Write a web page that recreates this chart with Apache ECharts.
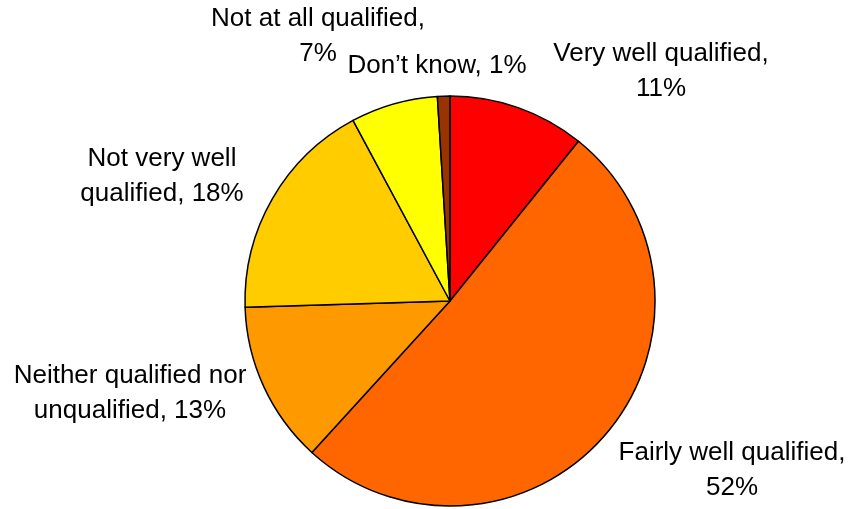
<!DOCTYPE html>
<html>
<head>
<meta charset="utf-8">
<style>
  html, body { margin: 0; padding: 0; background: #ffffff; }
  #chart { width: 852px; height: 509px; }
</style>
<script src="https://cdn.jsdelivr.net/npm/echarts@6/dist/echarts.min.js"></script>
</head>
<body>
<div id="chart"></div>
<script>
// Survey responses: how well qualified respondents feel (percent)
const categories = [
  'Very well qualified',
  'Fairly well qualified',
  'Neither qualified nor\nunqualified',
  'Not very well\nqualified',
  'Not at all qualified,\n',
  'Don\u2019t know'
];
const labelTexts = [
  'Very well qualified,\n11%',
  'Fairly well qualified,\n52%',
  'Neither qualified nor\nunqualified, 13%',
  'Not very well\nqualified, 18%',
  'Not at all qualified,\n7%',
  'Don\u2019t know, 1%'
];
const values = [11, 52, 13, 18, 7, 1];
const colors = ['#FF0000', '#FF6600', '#FF9900', '#FFCC00', '#FFFF00', '#993300'];

// label anchor points (centre of each text block)
const labelSpots = [
  [661, 71],
  [732, 470],
  [130, 393],
  [162, 176],
  [318, 36],
  [437, 66]
];

const chart = echarts.init(document.getElementById('chart'), null, { renderer: 'canvas' });

chart.setOption({
  backgroundColor: '#ffffff',
  animation: false,
  series: [{
    type: 'pie',
    center: [450, 301],
    radius: [0, 205],
    startAngle: 90,
    clockwise: true,
    avoidLabelOverlap: false,
    data: values.map((v, i) => ({
      value: v,
      name: categories[i],
      itemStyle: { color: colors[i] },
      label: { formatter: labelTexts[i] }
    })),
    itemStyle: { borderColor: '#000000', borderWidth: 1.5 },
    emphasis: { disabled: true },
    label: {
      show: true,
      position: 'outside',
      color: '#000000',
      fontFamily: '"Liberation Sans", Arial, sans-serif',
      fontSize: 26,
      lineHeight: 35,
      align: 'center'
    },
    labelLine: { show: false },
    labelLayout: function (params) {
      const p = labelSpots[params.dataIndex];
      return { x: p[0], y: p[1], align: 'center', verticalAlign: 'middle' };
    }
  }]
});
</script>
</body>
</html>
